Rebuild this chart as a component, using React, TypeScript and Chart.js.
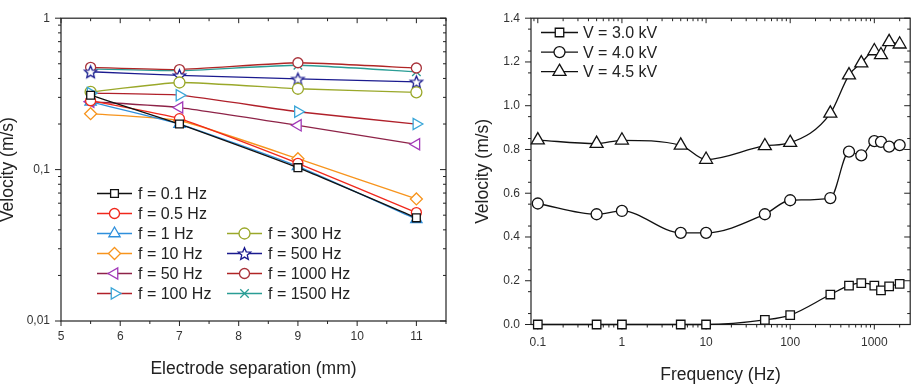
import React, { useEffect, useRef } from 'react';
import { Chart, registerables } from 'chart.js';
Chart.register(...registerables);
Chart.defaults.font.family = '"Liberation Sans", Arial, sans-serif';

// ---------- Left chart data ----------
const separations = [5.5, 7, 9, 11];
const freqLabels = ['f = 0.1 Hz', 'f = 0.5 Hz', 'f = 1 Hz', 'f = 10 Hz', 'f = 50 Hz', 'f = 100 Hz', 'f = 300 Hz', 'f = 500 Hz', 'f = 1000 Hz', 'f = 1500 Hz'];
const v01Hz = [0.31, 0.2, 0.103, 0.048];
const v05Hz = [0.285, 0.217, 0.11, 0.052];
const v1Hz = [0.28, 0.2, 0.105, 0.047];
const v10Hz = [0.234, 0.211, 0.118, 0.064];
const v50Hz = [0.281, 0.257, 0.196, 0.147];
const v100Hz = [0.32, 0.31, 0.241, 0.2];
const v300Hz = [0.326, 0.376, 0.342, 0.324];
const v500Hz = [0.443, 0.419, 0.397, 0.38];
const v1000Hz = [0.474, 0.458, 0.508, 0.469];
const v1500Hz = [0.462, 0.45, 0.489, 0.443];
const leftXTicks = [5, 6, 7, 8, 9, 10, 11];
const leftYTicks = [0.01, 0.1, 1];
const leftYTickLabels = ['0,01', '0,1', '1'];

// ---------- Right chart data ----------
const freqs = [0.1, 0.5, 1, 5, 10, 50, 100, 300, 500, 700, 1000, 1200, 1500, 2000];
const voltLabels = ['V = 3.0 kV', 'V = 4.0 kV', 'V = 4.5 kV'];
const v30kV = [0.0, 0.0, 0.0, 0.0, 0.0, 0.021, 0.043, 0.137, 0.178, 0.189, 0.178, 0.156, 0.174, 0.186];
const v40kV = [0.553, 0.504, 0.519, 0.419, 0.419, 0.504, 0.568, 0.578, 0.79, 0.773, 0.838, 0.835, 0.813, 0.82];
const v45kV = [0.843, 0.827, 0.842, 0.819, 0.754, 0.816, 0.831, 0.965, 1.14, 1.195, 1.25, 1.232, 1.292, 1.281];
const rightXTicks = [0.1, 1, 10, 100, 1000];
const rightXTickLabels = ['0.1', '1', '10', '100', '1000'];
const rightYTicks = [0, 0.2, 0.4, 0.6, 0.8, 1.0, 1.2, 1.4];
const rightYTickLabels = ['0.0', '0.2', '0.4', '0.6', '0.8', '1.0', '1.2', '1.4'];

const FONT = '"Liberation Sans", Arial, sans-serif';

function makeStar(color: string, r: number) {
  const size = Math.ceil(r * 2 + 4);
  const c = document.createElement('canvas');
  c.width = size;
  c.height = size;
  const ctx = c.getContext('2d')!;
  ctx.translate(size / 2, size / 2 + r * 0.1);
  ctx.beginPath();
  for (let i = 0; i < 10; i++) {
    const rr = i % 2 === 0 ? r : r * 0.45;
    const ang = -Math.PI / 2 + (i * Math.PI) / 5;
    ctx.lineTo(rr * Math.cos(ang), rr * Math.sin(ang));
  }
  ctx.closePath();
  ctx.fillStyle = '#fff';
  ctx.fill();
  ctx.strokeStyle = color;
  ctx.lineWidth = 1.3;
  ctx.stroke();
  return c;
}

function drawMarker(ctx: CanvasRenderingContext2D, style: any, x: number, y: number, r: number, rot: number, stroke: string) {
  if (style instanceof HTMLCanvasElement) {
    ctx.drawImage(style, x - style.width / 2, y - style.height / 2);
    return;
  }
  ctx.save();
  ctx.translate(x, y);
  ctx.rotate((rot * Math.PI) / 180);
  ctx.beginPath();
  if (style === 'circle') ctx.arc(0, 0, r, 0, Math.PI * 2);
  else if (style === 'rect') {
    const s = r * Math.SQRT1_2;
    ctx.rect(-s, -s, 2 * s, 2 * s);
  } else if (style === 'rectRot') {
    ctx.moveTo(0, -r); ctx.lineTo(r, 0); ctx.lineTo(0, r); ctx.lineTo(-r, 0); ctx.closePath();
  } else if (style === 'triangle') {
    for (let i = 0; i < 3; i++) {
      const a = (i * 2 * Math.PI) / 3;
      ctx.lineTo(Math.sin(a) * r, -Math.cos(a) * r);
    }
    ctx.closePath();
  } else if (style === 'crossRot') {
    const o = r * Math.SQRT1_2;
    ctx.moveTo(-o, -o); ctx.lineTo(o, o); ctx.moveTo(o, -o); ctx.lineTo(-o, o);
  }
  if (style !== 'crossRot') {
    ctx.fillStyle = '#fff';
    ctx.fill();
  }
  ctx.strokeStyle = stroke;
  ctx.lineWidth = 1.3;
  ctx.stroke();
  ctx.restore();
}

const framePlugin = {
  id: 'frame',
  beforeDatasetsDraw(chart: any, _args: any, opts: any) {
    const { ctx, chartArea: a, scales } = chart;
    ctx.save();
    ctx.strokeStyle = '#222';
    ctx.lineWidth = 1.2;
    ctx.strokeRect(a.left, a.top, a.right - a.left, a.bottom - a.top);
    ctx.lineWidth = 1;
    const seg = (x1: number, y1: number, x2: number, y2: number) => {
      ctx.beginPath(); ctx.moveTo(x1, y1); ctx.lineTo(x2, y2); ctx.stroke();
    };
    const xt = (vals: number[], len: number) => vals.forEach((v) => {
      const p = scales.x.getPixelForValue(v);
      if (p < a.left - 0.5 || p > a.right + 0.5) return;
      seg(p, a.bottom, p, a.bottom + len);
      seg(p, a.top, p, a.top + len);
    });
    const yt = (vals: number[], len: number) => vals.forEach((v) => {
      const p = scales.y.getPixelForValue(v);
      if (p < a.top - 0.5 || p > a.bottom + 0.5) return;
      seg(a.left, p, a.left - len, p);
      seg(a.right, p, a.right - len, p);
    });
    xt(opts.xMajor, opts.major);
    xt(opts.xMinor, opts.minor);
    yt(opts.yMajor, opts.major + 1);
    yt(opts.yMinor, opts.minor);
    ctx.restore();
  },
};

const legendPlugin = {
  id: 'customLegend',
  afterDraw(chart: any, _args: any, opts: any) {
    const { ctx } = chart;
    ctx.save();
    ctx.font = `16px ${FONT}`;
    ctx.textBaseline = 'middle';
    ctx.fillStyle = '#222';
    opts.items.forEach((it: any) => {
      ctx.strokeStyle = it.line;
      ctx.lineWidth = 1.3;
      ctx.beginPath();
      ctx.moveTo(it.x, it.y);
      ctx.lineTo(it.x + opts.lineLen, it.y);
      ctx.stroke();
      drawMarker(ctx, it.style, it.x + opts.lineLen / 2, it.y, it.r, it.rot, it.marker);
      ctx.fillStyle = '#222';
      ctx.fillText(it.label, it.x + opts.lineLen + opts.gap, it.y + 1);
    });
    ctx.restore();
  },
};

function logMinor(lo: number, hi: number) {
  const out: number[] = [];
  for (let e = lo; e <= hi; e++) for (let k = 2; k <= 9; k++) out.push(k * Math.pow(10, e));
  return out;
}

function leftConfig(): any {
  const star = makeStar('#1b1b8f', 6.5);
  const series = [
    { label: freqLabels[0], values: v01Hz, line: '#111111', marker: '#111111', style: 'rect', r: 5.5, rot: 0 },
    { label: freqLabels[1], values: v05Hz, line: '#f0281c', marker: '#f0281c', style: 'circle', r: 5, rot: 0 },
    { label: freqLabels[2], values: v1Hz, line: '#2f8fdc', marker: '#2f8fdc', style: 'triangle', r: 6.5, rot: 0 },
    { label: freqLabels[3], values: v10Hz, line: '#f7941d', marker: '#f7941d', style: 'rectRot', r: 6, rot: 0 },
    { label: freqLabels[4], values: v50Hz, line: '#8e2348', marker: '#a23ab8', style: 'triangle', r: 6.5, rot: 270 },
    { label: freqLabels[5], values: v100Hz, line: '#b0202a', marker: '#3aa6d8', style: 'triangle', r: 6.5, rot: 90 },
    { label: freqLabels[6], values: v300Hz, line: '#9aa82a', marker: '#9aa82a', style: 'circle', r: 5.5, rot: 0 },
    { label: freqLabels[7], values: v500Hz, line: '#1b1b8f', marker: '#1b1b8f', style: star, r: 6, rot: 0 },
    { label: freqLabels[8], values: v1000Hz, line: '#b02525', marker: '#a8323a', style: 'circle', r: 5, rot: 0 },
    { label: freqLabels[9], values: v1500Hz, line: '#2a9d95', marker: '#2a9d95', style: 'crossRot', r: 6, rot: 0 },
  ];
  const items = series.map((s, i) => {
    const col = i < 6 ? 0 : 1;
    const row = i < 6 ? i : i - 4;
    return { ...s, x: col === 0 ? 97 : 227, y: 193.5 + row * 20 };
  });
  const xMinor: number[] = [];
  for (let v = 5.5; v <= 11.5; v += 1) xMinor.push(v);
  return {
    type: 'line',
    data: {
      datasets: series.map((s) => ({
        label: s.label,
        data: separations.map((x, i) => ({ x, y: s.values[i] })),
        borderColor: s.line,
        backgroundColor: s.line,
        borderWidth: 1.3,
        pointStyle: s.style,
        pointRadius: s.r,
        pointRotation: s.rot,
        pointBorderColor: s.marker,
        pointBackgroundColor: '#fff',
        pointBorderWidth: 1.3,
        tension: 0.15,
        clip: false,
      })),
    },
    options: {
      responsive: false,
      animation: false,
      devicePixelRatio: 1,
      events: [],
      layout: { padding: { left: 0, top: 10, right: 14, bottom: 0 } },
      plugins: {
        legend: { display: false },
        tooltip: { enabled: false },
        frame: { xMajor: leftXTicks, xMinor, yMajor: leftYTicks, yMinor: logMinor(-2, -1), major: 5, minor: 3 },
        customLegend: { items, lineLen: 35, gap: 6 },
      },
      scales: {
        x: {
          type: 'linear', min: 5, max: 11.5,
          afterFit: (s: any) => { s.height = 69; },
          afterBuildTicks: (s: any) => { s.ticks = leftXTicks.map((v) => ({ value: v })); },
          ticks: { padding: 8.5, font: { size: 12 }, color: '#333', autoSkip: false, maxRotation: 0, callback: (v: any) => String(v) },
          grid: { display: false, drawTicks: false },
          border: { display: false },
          title: { display: true, text: 'Electrode separation (mm)', font: { size: 17.5 }, color: '#222', padding: { top: 0, bottom: 10.5 } },
        },
        y: {
          type: 'logarithmic', min: 0.01, max: 1,
          afterFit: (s: any) => { s.width = 61; },
          afterBuildTicks: (s: any) => { s.ticks = leftYTicks.map((v) => ({ value: v })); },
          ticks: { padding: 11, font: { size: 12 }, color: '#333', autoSkip: false, callback: (_v: any, i: number) => leftYTickLabels[i] },
          grid: { display: false, drawTicks: false },
          border: { display: false },
          title: { display: true, text: 'Velocity (m/s)', font: { size: 17.5 }, color: '#222', padding: { top: -2, bottom: 0 } },
        },
      },
    },
    plugins: [framePlugin, legendPlugin],
  };
}

function rightConfig(): any {
  const series = [
    { label: voltLabels[0], values: v30kV, style: 'rect', r: 6 },
    { label: voltLabels[1], values: v40kV, style: 'circle', r: 5.5 },
    { label: voltLabels[2], values: v45kV, style: 'triangle', r: 7.5 },
  ];
  const items = series.map((s, i) => ({ ...s, line: '#111', marker: '#111', rot: 0, x: 81, y: 32.5 + i * 19.6 }));
  const yMinor: number[] = [];
  for (let v = 0.05; v < 1.4; v += 0.1) yMinor.push(v);
  return {
    type: 'line',
    data: {
      datasets: series.map((s) => ({
        label: s.label,
        data: freqs.map((x, i) => ({ x, y: s.values[i] })),
        borderColor: '#111',
        borderWidth: 1.3,
        pointStyle: s.style,
        pointRadius: s.r,
        pointBorderColor: '#111',
        pointBackgroundColor: '#fff',
        pointBorderWidth: 1.3,
        cubicInterpolationMode: 'monotone',
        clip: false,
      })),
    },
    options: {
      responsive: false,
      animation: false,
      devicePixelRatio: 1,
      events: [],
      layout: { padding: { left: 0, top: 10.5, right: 3.5, bottom: 0 } },
      plugins: {
        legend: { display: false },
        tooltip: { enabled: false },
        frame: { xMajor: rightXTicks, xMinor: logMinor(-2, 3), yMajor: rightYTicks, yMinor, major: 5, minor: 3 },
        customLegend: { items, lineLen: 37, gap: 5 },
      },
      scales: {
        x: {
          type: 'logarithmic', min: 0.083, max: 2670,
          afterFit: (s: any) => { s.height = 65.5; },
          afterBuildTicks: (s: any) => { s.ticks = rightXTicks.map((v) => ({ value: v })); },
          ticks: { padding: 10.5, font: { size: 12 }, color: '#333', autoSkip: false, maxRotation: 0, callback: (_v: any, i: number) => rightXTickLabels[i] },
          grid: { display: false, drawTicks: false },
          border: { display: false },
          title: { display: true, text: 'Frequency (Hz)', font: { size: 17.5 }, color: '#222', padding: { top: 0, bottom: 4.5 } },
        },
        y: {
          type: 'linear', min: 0, max: 1.4,
          afterFit: (s: any) => { s.width = 71; },
          afterBuildTicks: (s: any) => { s.ticks = rightYTicks.map((v) => ({ value: v })); },
          ticks: { padding: 11, font: { size: 12 }, color: '#333', autoSkip: false, callback: (_v: any, i: number) => rightYTickLabels[i] },
          grid: { display: false, drawTicks: false },
          border: { display: false },
          title: { display: true, text: 'Velocity (m/s)', font: { size: 17.5 }, color: '#222', padding: { top: 12.5, bottom: 0 } },
        },
      },
    },
    plugins: [framePlugin, legendPlugin],
  };
}

function ChartCanvas({ make, left, width }: { make: () => any; left: number; width: number }) {
  const ref = useRef<HTMLCanvasElement>(null);
  useEffect(() => {
    const chart = new Chart(ref.current!, make());
    return () => chart.destroy();
  }, [make]);
  return (
    <canvas
      ref={ref}
      width={width}
      height={390}
      style={{ position: 'absolute', left, top: 0, width, height: 390 }}
    />
  );
}

export default function App() {
  return (
    <div style={{ position: 'absolute', left: 0, top: 0, width: 919, height: 390, background: '#fff', overflow: 'hidden' }}>
      <ChartCanvas make={leftConfig} left={0} width={460} />
      <ChartCanvas make={rightConfig} left={460} width={459} />
    </div>
  );
}
